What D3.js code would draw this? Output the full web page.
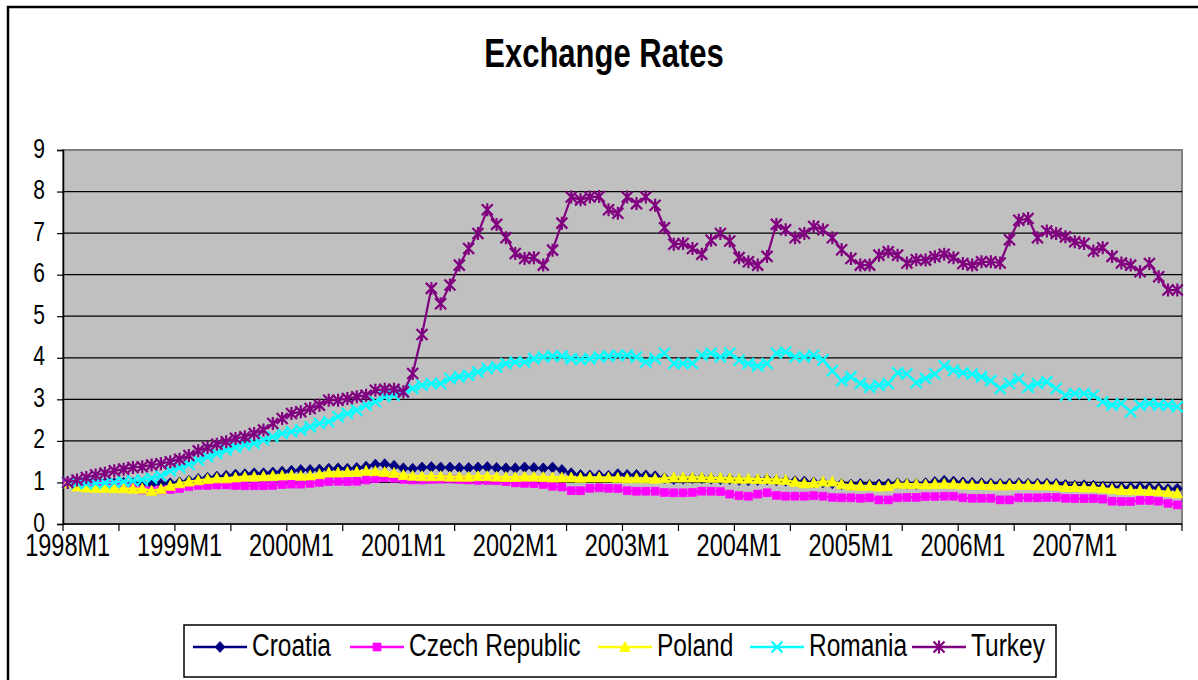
<!DOCTYPE html>
<html>
<head>
<meta charset="utf-8">
<script src="https://cdn.jsdelivr.net/npm/d3@7"></script>
<style>
  html, body { margin: 0; padding: 0; background: #fff; }
  svg { display: block; font-family: "Liberation Sans", Arial, sans-serif; }
</style>
</head>
<body>
<svg id="chart" width="1198" height="680"></svg>
<script>
// Monthly exchange-rate indices, 1998M1 = 1
const years = d3.range(1998, 2008);
const months = years.flatMap(yr => d3.range(1, 13).map(m => `${yr}M${m}`));
const tickLabels = ["1998M1", "1999M1", "2000M1", "2001M1", "2002M1", "2003M1", "2004M1", "2005M1", "2006M1", "2007M1"];
const yTicks = [0, 1, 2, 3, 4, 5, 6, 7, 8, 9];

const croatia = [
  1.00, 0.99, 0.99, 0.98, 0.98, 0.98, 0.99, 0.98, 0.96, 0.95, 0.96, 0.98,
  1.00, 1.04, 1.08, 1.11, 1.14, 1.16, 1.19, 1.20, 1.22, 1.22, 1.24, 1.26,
  1.28, 1.30, 1.30, 1.31, 1.33, 1.34, 1.33, 1.35, 1.38, 1.43, 1.44, 1.40,
  1.34, 1.33, 1.36, 1.37, 1.36, 1.36, 1.35, 1.35, 1.36, 1.37, 1.35, 1.34,
  1.34, 1.36, 1.35, 1.34, 1.36, 1.30, 1.22, 1.18, 1.17, 1.17, 1.16, 1.20,
  1.18, 1.18, 1.17, 1.15, 1.10, 1.08, 1.09, 1.10, 1.10, 1.09, 1.08, 1.08,
  1.06, 1.05, 1.06, 1.07, 1.05, 1.04, 1.03, 1.02, 1.00, 1.00, 0.98, 0.96,
  0.95, 0.96, 0.94, 0.95, 0.96, 0.98, 0.97, 0.96, 0.98, 1.01, 1.04, 1.02,
  1.00, 0.99, 0.98, 0.97, 0.96, 0.97, 0.98, 0.97, 0.97, 0.97, 0.96, 0.94,
  0.92, 0.93, 0.92, 0.90, 0.89, 0.88, 0.88, 0.89, 0.88, 0.86, 0.84, 0.85
];
const czech = [
  1.00, 0.98, 0.97, 0.96, 0.95, 0.95, 0.92, 0.88, 0.82, 0.80, 0.82, 0.83,
  0.85, 0.90, 0.93, 0.93, 0.94, 0.94, 0.93, 0.92, 0.92, 0.92, 0.93, 0.95,
  0.96, 0.96, 0.98, 1.00, 1.02, 1.03, 1.02, 1.03, 1.06, 1.09, 1.11, 1.10,
  1.07, 1.06, 1.06, 1.07, 1.08, 1.08, 1.07, 1.06, 1.05, 1.05, 1.04, 1.02,
  0.99, 0.98, 0.97, 0.95, 0.91, 0.89, 0.80, 0.80, 0.86, 0.87, 0.86, 0.85,
  0.80, 0.79, 0.79, 0.79, 0.76, 0.75, 0.75, 0.76, 0.79, 0.79, 0.78, 0.72,
  0.68, 0.67, 0.72, 0.75, 0.69, 0.67, 0.67, 0.67, 0.68, 0.67, 0.64, 0.63,
  0.63, 0.62, 0.63, 0.58, 0.58, 0.63, 0.64, 0.64, 0.66, 0.66, 0.67, 0.67,
  0.63, 0.62, 0.62, 0.62, 0.58, 0.58, 0.63, 0.63, 0.63, 0.64, 0.64, 0.62,
  0.61, 0.61, 0.61, 0.60, 0.55, 0.54, 0.54, 0.57, 0.57, 0.55, 0.50, 0.46
];
const poland = [
  0.98, 0.90, 0.88, 0.87, 0.87, 0.86, 0.86, 0.85, 0.85, 0.80, 0.84, 0.92,
  0.98, 1.02, 1.05, 1.08, 1.10, 1.10, 1.12, 1.14, 1.14, 1.15, 1.16, 1.17,
  1.18, 1.16, 1.17, 1.20, 1.24, 1.24, 1.25, 1.26, 1.28, 1.27, 1.25, 1.23,
  1.18, 1.16, 1.15, 1.15, 1.15, 1.14, 1.14, 1.14, 1.15, 1.15, 1.14, 1.13,
  1.13, 1.14, 1.14, 1.13, 1.12, 1.12, 1.12, 1.11, 1.12, 1.12, 1.12, 1.11,
  1.10, 1.10, 1.10, 1.09, 1.10, 1.12, 1.12, 1.12, 1.12, 1.11, 1.11, 1.10,
  1.09, 1.09, 1.08, 1.08, 1.07, 1.06, 1.01, 0.98, 0.99, 1.02, 1.02, 0.96,
  0.93, 0.92, 0.92, 0.90, 0.91, 0.97, 0.96, 0.96, 0.95, 0.96, 0.97, 0.96,
  0.95, 0.94, 0.94, 0.93, 0.93, 0.93, 0.94, 0.94, 0.93, 0.93, 0.92, 0.89,
  0.89, 0.88, 0.88, 0.86, 0.84, 0.82, 0.81, 0.81, 0.80, 0.79, 0.77, 0.74
];
const romania = [
  1.00, 0.98, 0.97, 0.98, 0.99, 1.00, 1.02, 1.04, 1.06, 1.10, 1.16, 1.28,
  1.36, 1.44, 1.54, 1.62, 1.70, 1.78, 1.85, 1.90, 1.94, 2.02, 2.10, 2.18,
  2.22, 2.26, 2.34, 2.42, 2.46, 2.58, 2.66, 2.74, 2.86, 2.94, 3.06, 3.10,
  3.18, 3.26, 3.34, 3.38, 3.38, 3.50, 3.54, 3.58, 3.66, 3.74, 3.78, 3.86,
  3.90, 3.90, 3.98, 4.02, 4.04, 4.04, 3.98, 3.96, 3.98, 4.02, 4.04, 4.06,
  4.06, 4.02, 3.90, 3.98, 4.11, 3.86, 3.86, 3.86, 4.06, 4.11, 4.02, 4.11,
  3.94, 3.86, 3.80, 3.86, 4.11, 4.14, 4.02, 4.02, 4.06, 3.95, 3.69, 3.45,
  3.54, 3.38, 3.29, 3.34, 3.38, 3.64, 3.61, 3.40, 3.50, 3.61, 3.80, 3.70,
  3.64, 3.61, 3.54, 3.45, 3.26, 3.38, 3.49, 3.29, 3.38, 3.42, 3.26, 3.10,
  3.14, 3.14, 3.10, 2.94, 2.86, 2.90, 2.70, 2.86, 2.90, 2.86, 2.86, 2.82
];
const turkey = [
  1.00, 1.06, 1.12, 1.18, 1.22, 1.28, 1.32, 1.36, 1.38, 1.42, 1.45, 1.50,
  1.56, 1.65, 1.76, 1.84, 1.92, 1.98, 2.06, 2.10, 2.18, 2.26, 2.42, 2.54,
  2.66, 2.70, 2.78, 2.86, 2.98, 2.98, 3.02, 3.06, 3.10, 3.22, 3.24, 3.24,
  3.18, 3.62, 4.56, 5.67, 5.30, 5.75, 6.23, 6.63, 6.99, 7.56, 7.21, 6.89,
  6.51, 6.39, 6.41, 6.23, 6.59, 7.24, 7.87, 7.80, 7.87, 7.88, 7.56, 7.48,
  7.87, 7.71, 7.87, 7.67, 7.13, 6.73, 6.75, 6.63, 6.49, 6.83, 6.99, 6.81,
  6.41, 6.31, 6.23, 6.44, 7.21, 7.08, 6.89, 6.99, 7.16, 7.08, 6.89, 6.60,
  6.39, 6.23, 6.23, 6.47, 6.55, 6.47, 6.28, 6.36, 6.35, 6.43, 6.49, 6.41,
  6.27, 6.23, 6.31, 6.31, 6.28, 6.84, 7.31, 7.35, 6.89, 7.05, 6.99, 6.91,
  6.79, 6.75, 6.57, 6.65, 6.44, 6.28, 6.23, 6.07, 6.27, 5.95, 5.63, 5.63
];

const seriesNames = ["Croatia", "Czech Republic", "Poland", "Romania", "Turkey"];
const seriesValues = [croatia, czech, poland, romania, turkey];
const seriesColors = ["#000080", "#FF00FF", "#FFFF00", "#00FFFF", "#800080"];
const seriesMarkers = ["diamond", "square", "triangle", "cross", "star"];

const svg = d3.select("#chart");
const TEXT_STRETCH = 1.3;

// Text drawn slightly tall, like the rest of the chart lettering
function label(g, px, py, str, size, anchor, weight) {
  return g.append("text")
    .attr("transform", `translate(${px},${py}) scale(1,${TEXT_STRETCH})`)
    .attr("text-anchor", anchor || "middle")
    .attr("font-size", size)
    .attr("font-weight", weight || "normal")
    .attr("fill", "#000")
    .text(str);
}

// Outer chart frame
svg.append("rect")
  .attr("x", 8).attr("y", 7).attr("width", 1210).attr("height", 700)
  .attr("fill", "#fff").attr("stroke", "#000").attr("stroke-width", 2.5);

// Title
label(svg, 604, 67, "Exchange Rates", 31, "middle", "bold");

// Plot area
const plotLeft = 63, plotRight = 1182, plotTop = 150, plotBottom = 524;
const x = d3.scaleBand().domain(months).range([plotLeft, plotRight]).padding(0);
const y = d3.scaleLinear().domain([0, 9]).range([plotBottom, plotTop]);

svg.append("rect")
  .attr("x", plotLeft).attr("y", plotTop)
  .attr("width", plotRight - plotLeft).attr("height", plotBottom - plotTop)
  .attr("fill", "#C0C0C0").attr("stroke", "#808080").attr("stroke-width", 2);

// Horizontal gridlines
svg.append("g").selectAll("line")
  .data(yTicks.filter(t => t > 0 && t < 9))
  .join("line")
  .attr("x1", plotLeft).attr("x2", plotRight)
  .attr("y1", d => y(d)).attr("y2", d => y(d))
  .attr("stroke", "#000").attr("stroke-width", 1.2);

// Y axis
const yAxis = svg.append("g").attr("transform", `translate(${plotLeft},0)`)
  .call(d3.axisLeft(y).tickValues(yTicks).tickSize(6).tickFormat(""));
yAxis.select(".domain").attr("stroke", "#000").attr("stroke-width", 1.5);
yAxis.selectAll(".tick line").attr("stroke", "#000").attr("stroke-width", 1.2);
yTicks.forEach(t => label(svg, 45, y(t) + 7.5, String(t), 21, "end"));

// X axis: tick marks every six months, labels every January
const xTickIdx = d3.range(0, months.length + 1, 6);
const xAxisG = svg.append("g");
xAxisG.append("line")
  .attr("x1", plotLeft).attr("x2", plotRight).attr("y1", plotBottom).attr("y2", plotBottom)
  .attr("stroke", "#000").attr("stroke-width", 1.5);
xAxisG.selectAll("line.tick")
  .data(xTickIdx)
  .join("line").attr("class", "tick")
  .attr("x1", i => i < months.length ? x(months[i]) : plotRight)
  .attr("x2", i => i < months.length ? x(months[i]) : plotRight)
  .attr("y1", plotBottom).attr("y2", plotBottom + 7)
  .attr("stroke", "#000").attr("stroke-width", 1.2);
tickLabels.forEach(t => {
  label(svg, x(t) + x.bandwidth() / 2, 556, t, 23.5, "middle");
});

// Marker shapes
function drawMarker(g, type, color, cx, cy) {
  if (type === "diamond") {
    g.append("path").attr("d", `M${cx},${cy - 5.5}L${cx + 5},${cy}L${cx},${cy + 5.5}L${cx - 5},${cy}Z`)
      .attr("fill", color).attr("stroke", color).attr("stroke-width", 0.8);
  } else if (type === "square") {
    g.append("rect").attr("x", cx - 4).attr("y", cy - 4).attr("width", 8).attr("height", 8)
      .attr("fill", color).attr("stroke", color).attr("stroke-width", 0.6);
  } else if (type === "triangle") {
    g.append("path").attr("d", `M${cx},${cy - 5.5}L${cx + 5.2},${cy + 4.5}L${cx - 5.2},${cy + 4.5}Z`)
      .attr("fill", color).attr("stroke", color).attr("stroke-width", 0.8);
  } else if (type === "cross") {
    g.append("path").attr("d", `M${cx - 5.5},${cy - 5.5}L${cx + 5.5},${cy + 5.5}M${cx - 5.5},${cy + 5.5}L${cx + 5.5},${cy - 5.5}`)
      .attr("stroke", color).attr("stroke-width", 2.2).attr("fill", "none");
  } else if (type === "star") {
    g.append("path").attr("d", `M${cx - 5.5},${cy - 5.5}L${cx + 5.5},${cy + 5.5}M${cx - 5.5},${cy + 5.5}L${cx + 5.5},${cy - 5.5}M${cx},${cy - 6.5}L${cx},${cy + 6.5}`)
      .attr("stroke", color).attr("stroke-width", 2.2).attr("fill", "none");
  }
}

const line = d3.line()
  .x((d, i) => x(months[i]) + x.bandwidth() / 2)
  .y(d => y(d));

seriesValues.forEach((vals, s) => {
  const g = svg.append("g").attr("class", "series");
  g.append("path").datum(vals)
    .attr("d", line)
    .attr("fill", "none")
    .attr("stroke", seriesColors[s])
    .attr("stroke-width", 2.2)
    .attr("stroke-linejoin", "round");
  vals.forEach((v, i) => {
    drawMarker(g, seriesMarkers[s], seriesColors[s], x(months[i]) + x.bandwidth() / 2, y(v));
  });
});

// Legend
const legend = svg.append("g");
legend.append("rect")
  .attr("x", 184).attr("y", 625).attr("width", 872).attr("height", 52)
  .attr("fill", "#fff").attr("stroke", "#000").attr("stroke-width", 1.5);
const legendX = [193, 350, 598, 750, 912];
const legendY = 647;
seriesNames.forEach((name, s) => {
  const lx = legendX[s];
  legend.append("line")
    .attr("x1", lx).attr("x2", lx + 54).attr("y1", legendY).attr("y2", legendY)
    .attr("stroke", seriesColors[s]).attr("stroke-width", 2.5);
  drawMarker(legend, seriesMarkers[s], seriesColors[s], lx + 27, legendY);
  label(legend, lx + 59, legendY + 8.5, name, 24.5, "start");
});
</script>
</body>
</html>
